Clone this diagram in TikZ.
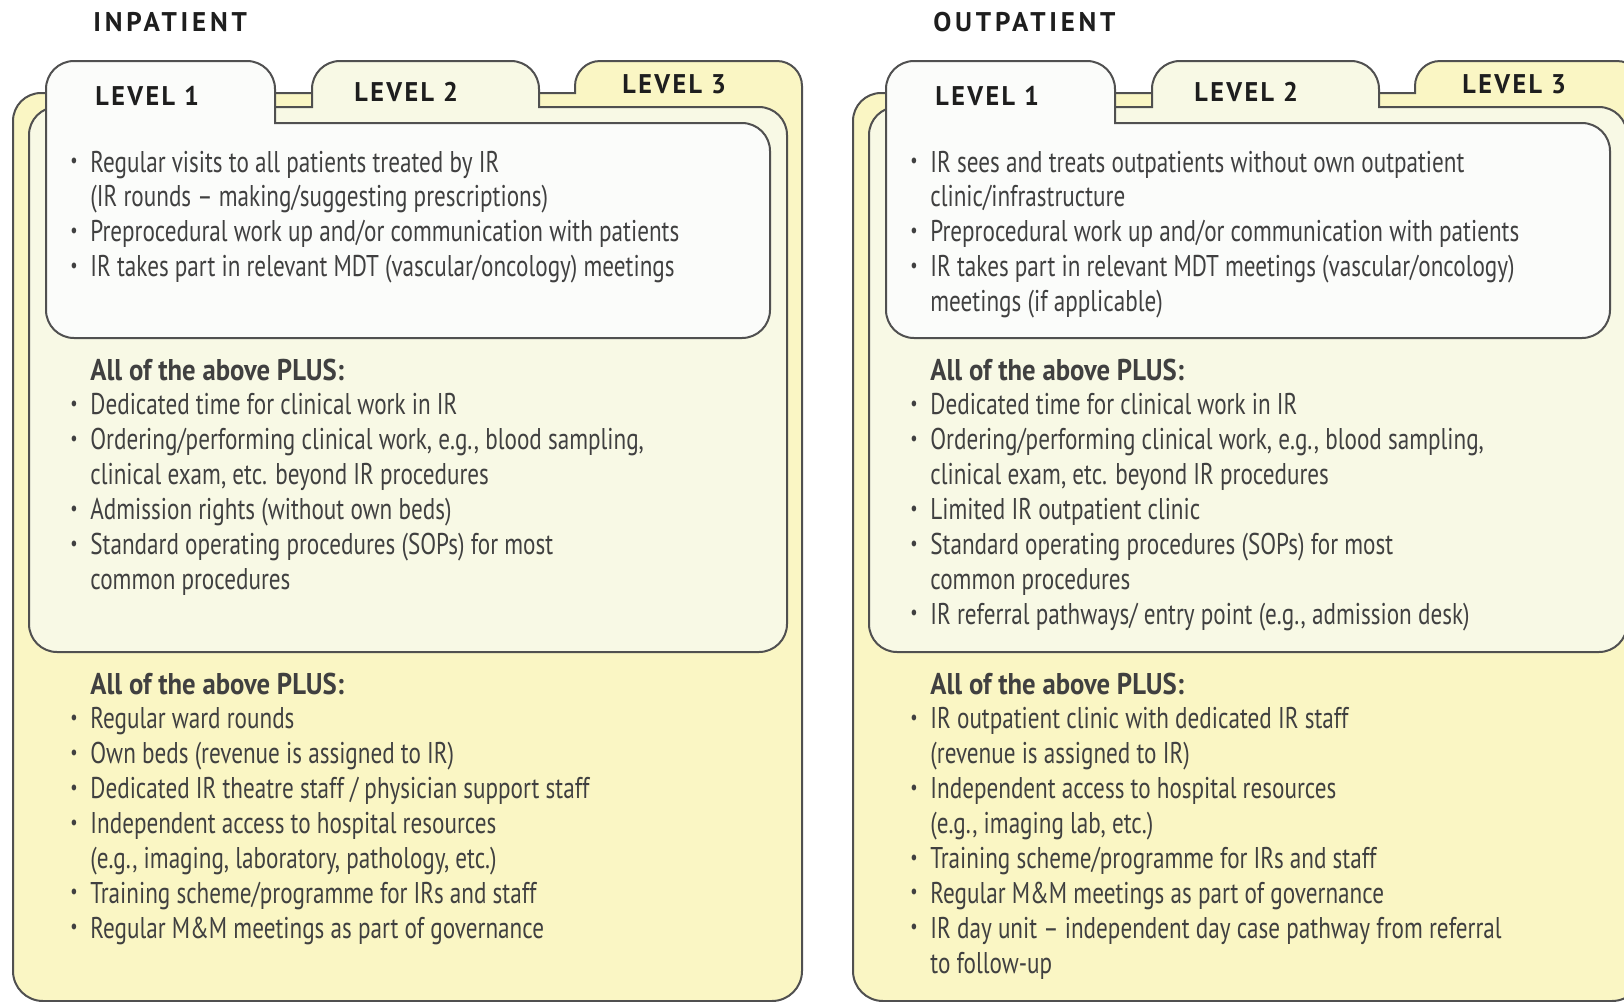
\documentclass[tikz,border=0pt]{standalone}
\usepackage{fontspec}
\setmainfont{PT Sans}[FakeStretch=0.772,BoldFeatures={FakeStretch=0.89}]
\newfontfamily\headfam{PT Sans}[FakeStretch=0.97,LetterSpace=9]
\newfontfamily\titlefam{PT Sans}[FakeStretch=1.0,LetterSpace=14]

\definecolor{edgegray}{HTML}{505050}
\definecolor{yelthree}{HTML}{FAF6C4}
\definecolor{yeltwo}{HTML}{F8F9E5}
\definecolor{yelone}{HTML}{FBFCFA}
\definecolor{txtgray}{HTML}{404040}
\definecolor{labelblack}{HTML}{1E1E1E}

\newcommand{\bul}{\makebox[10pt][l]{\raisebox{0.3ex}{\scalebox{0.7}{\textbullet}}}}

\tikzset{
  lvlthree/.style={draw=edgegray, line width=1pt, fill=yelthree},
  lvltwo/.style={draw=edgegray, line width=1pt, fill=yeltwo},
  lvlone/.style={draw=edgegray, line width=1pt, fill=yelone},
  head/.style={anchor=base west, inner sep=0pt, text=labelblack,
    font=\headfam\bfseries\fontsize{13.5}{16}\selectfont},
  title/.style={anchor=base west, inner sep=0pt, text=labelblack,
    font=\titlefam\bfseries\fontsize{13.5}{16}\selectfont},
  itemtext/.style={anchor=base west, inner sep=0pt, text=txtgray,
    font=\fontsize{15}{17.45}\selectfont},
}

\begin{document}
\begin{tikzpicture}[x=0.5pt, y=-0.5pt]
    \useasboundingbox (0,0) rectangle (1624,1002);
    \clip (0,0) rectangle (1624,1002);

    \foreach \dx in {0,840} {
      \begin{scope}[shift={(\dx,0)}]
        \draw[lvlthree] (13,971) -- (13,121) arc[start angle=180,end angle=270,radius=28]
          -- (575,93) -- (575,86) arc[start angle=180,end angle=270,radius=25]
          -- (777,61) arc[start angle=270,end angle=360,radius=25]
          -- (802,971) arc[start angle=0,end angle=90,radius=30]
          -- (43,1001) arc[start angle=90,end angle=180,radius=30] -- cycle;
        \draw[lvltwo] (29,624) -- (29,135) arc[start angle=180,end angle=270,radius=28]
          -- (312,107) -- (312,89) arc[start angle=180,end angle=270,radius=28]
          -- (511,61) arc[start angle=270,end angle=360,radius=28]
          -- (539,107) -- (759,107) arc[start angle=270,end angle=360,radius=28]
          -- (787,624) arc[start angle=0,end angle=90,radius=28]
          -- (57,652) arc[start angle=90,end angle=180,radius=28] -- cycle;
        \draw[lvlone] (46,310) -- (46,89) arc[start angle=180,end angle=270,radius=28]
          -- (247,61) arc[start angle=270,end angle=360,radius=28]
          -- (275,123) -- (742,123) arc[start angle=270,end angle=360,radius=28]
          -- (770,310) arc[start angle=0,end angle=90,radius=28]
          -- (74,338) arc[start angle=90,end angle=180,radius=28] -- cycle;
      \end{scope}
    }

    \node[title] (inhead) at (93,31) {INPATIENT};
    \node[title] (outhead) at (933,31) {OUTPATIENT};

    \node[head] (inlv1) at (95,105) {LEVEL 1};
    \node[head] (inlv2) at (354,101) {LEVEL 2};
    \node[head] (inlv3) at (622,93) {LEVEL 3};
    \node[head] (outlv1) at (935,105) {LEVEL 1};
    \node[head] (outlv2) at (1194,101) {LEVEL 2};
    \node[head] (outlv3) at (1462,93) {LEVEL 3};

    \node[itemtext] (inone) at (70,172) {\begin{tabular}[t]{@{}l@{}l@{}}
      \bul & Regular visits to all patients treated by IR\\
           & (IR rounds – making/suggesting prescriptions)\\
      \bul & Preprocedural work up and/or communication with patients\\
      \bul & IR takes part in relevant MDT (vascular/oncology) meetings
    \end{tabular}};
    \node[itemtext] (intwo) at (70,380) {\begin{tabular}[t]{@{}l@{}l@{}}
           & \textbf{All of the above PLUS:}\\
      \bul & Dedicated time for clinical work in IR\\
      \bul & Ordering/performing clinical work, e.g., blood sampling,\\
           & clinical exam, etc. beyond IR procedures\\
      \bul & Admission rights (without own beds)\\
      \bul & Standard operating procedures (SOPs) for most\\
           & common procedures
    \end{tabular}};
    \node[itemtext] (inthree) at (70,694) {\begin{tabular}[t]{@{}l@{}l@{}}
           & \textbf{All of the above PLUS:}\\
      \bul & Regular ward rounds\\
      \bul & Own beds (revenue is assigned to IR)\\
      \bul & Dedicated IR theatre staff / physician support staff\\
      \bul & Independent access to hospital resources\\
           & (e.g., imaging, laboratory, pathology, etc.)\\
      \bul & Training scheme/programme for IRs and staff\\
      \bul & Regular M\&M meetings as part of governance
    \end{tabular}};

    \node[itemtext] (outone) at (910,172) {\begin{tabular}[t]{@{}l@{}l@{}}
      \bul & IR sees and treats outpatients without own outpatient\\
           & clinic/infrastructure\\
      \bul & Preprocedural work up and/or communication with patients\\
      \bul & IR takes part in relevant MDT meetings (vascular/oncology)\\
           & meetings (if applicable)
    \end{tabular}};
    \node[itemtext] (outtwo) at (910,380) {\begin{tabular}[t]{@{}l@{}l@{}}
           & \textbf{All of the above PLUS:}\\
      \bul & Dedicated time for clinical work in IR\\
      \bul & Ordering/performing clinical work, e.g., blood sampling,\\
           & clinical exam, etc. beyond IR procedures\\
      \bul & Limited IR outpatient clinic\\
      \bul & Standard operating procedures (SOPs) for most\\
           & common procedures\\
      \bul & IR referral pathways/ entry point (e.g., admission desk)
    \end{tabular}};
    \node[itemtext] (outthree) at (910,694) {\begin{tabular}[t]{@{}l@{}l@{}}
           & \textbf{All of the above PLUS:}\\
      \bul & IR outpatient clinic with dedicated IR staff\\
           & (revenue is assigned to IR)\\
      \bul & Independent access to hospital resources\\
           & (e.g., imaging lab, etc.)\\
      \bul & Training scheme/programme for IRs and staff\\
      \bul & Regular M\&M meetings as part of governance\\
      \bul & IR day unit – independent day case pathway from referral\\
           & to follow-up
    \end{tabular}};
\end{tikzpicture}
\end{document}
